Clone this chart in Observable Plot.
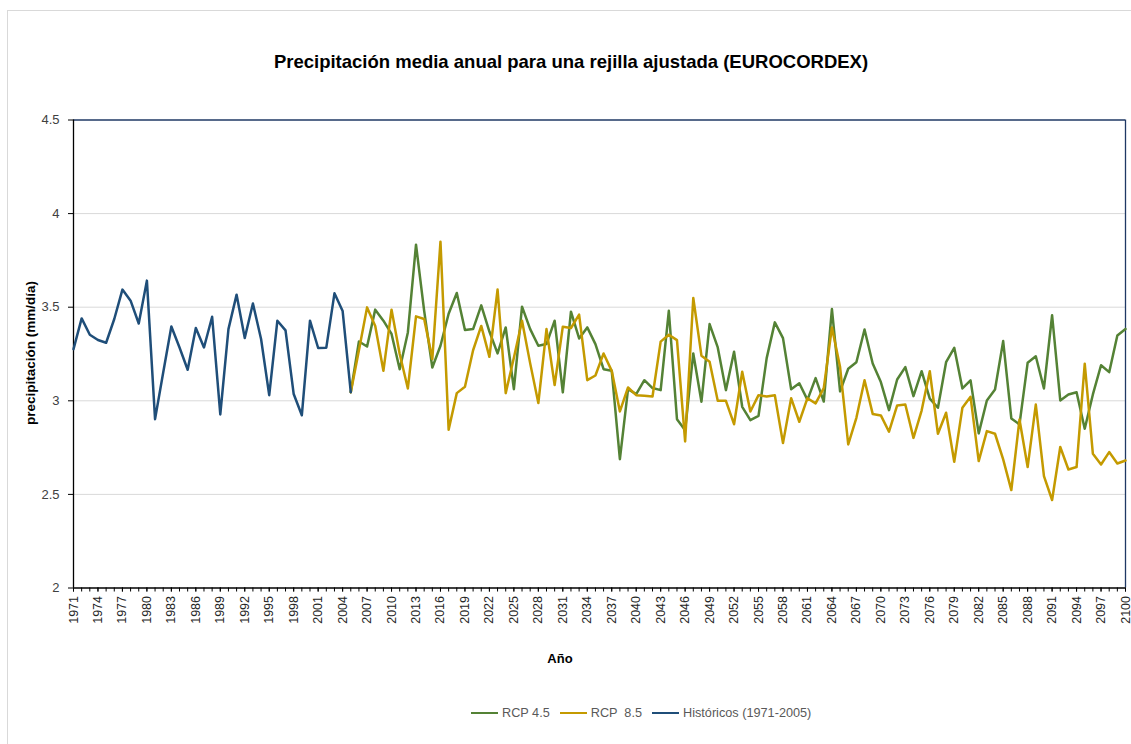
<!DOCTYPE html>
<html><head><meta charset="utf-8">
<script src="https://cdn.jsdelivr.net/npm/d3@7"></script>
<script src="https://cdn.jsdelivr.net/npm/@observablehq/plot@0.6"></script>
<style>
body{margin:0;background:#fff;font-family:"Liberation Sans",Arial,sans-serif;}
#wrap{position:relative;width:1131px;height:744px;overflow:hidden;background:#fff;}
#frame{position:absolute;left:7px;top:10px;width:1140px;height:760px;border:1px solid #d9d9d9;}
#title{position:absolute;left:0;top:51px;width:1142px;text-align:center;font-weight:bold;font-size:18.5px;color:#000;}
#chart{position:absolute;left:0;top:90px;}
#ylab{position:absolute;left:30px;top:353px;transform:translate(-50%,-50%) rotate(-90deg);font-weight:bold;font-size:13.5px;color:#000;white-space:nowrap;}
#xlab{position:absolute;left:560px;top:658px;transform:translate(-50%,-50%);font-weight:bold;font-size:13px;color:#000;}
#legend{position:absolute;left:471px;top:706px;display:flex;align-items:center;font-size:12.7px;color:#595959;white-space:pre;}
.item{display:flex;align-items:center;margin-right:10px;}
.sw{display:inline-block;width:27px;height:0;border-top:2.5px solid;margin-right:4px;}
</style></head>
<body>
<div id="wrap">
<div id="frame"></div>
<div id="title">Precipitación media anual para una rejilla ajustada (EUROCORDEX)</div>
<div id="chart"></div>
<div id="ylab">precipitación (mm/día)</div>
<div id="xlab">Año</div>
<div id="legend"></div>
</div>
<script>
// ---- data ----
const seriesNames = ["RCP 4.5", "RCP  8.5", "Históricos (1971-2005)"];
const seriesColors = ["#548235", "#c49a00", "#1f4e79"];

const histYears = d3.range(1971, 2006);
const histValues = [3.276, 3.44, 3.353, 3.325, 3.31, 3.437, 3.594, 3.535, 3.413, 3.642,
  2.902, 3.151, 3.397, 3.285, 3.166, 3.389, 3.285, 3.449, 2.927, 3.383,
  3.567, 3.335, 3.52, 3.33, 3.03, 3.428, 3.376, 3.036, 2.923, 3.428,
  3.282, 3.284, 3.574, 3.48, 3.046];

const rcpYears = d3.range(2005, 2101);
const rcp45Values = [3.046, 3.317, 3.29, 3.487, 3.428, 3.357, 3.169, 3.365, 3.834, 3.48,
  3.178, 3.294, 3.465, 3.576, 3.378, 3.383, 3.51, 3.37, 3.253, 3.392,
  3.062, 3.503, 3.383, 3.294, 3.303, 3.428, 3.045, 3.476, 3.333, 3.392,
  3.303, 3.169, 3.16, 2.688, 3.062, 3.036, 3.11, 3.068, 3.057, 3.481,
  2.902, 2.843, 3.253, 2.995, 3.41, 3.285, 3.057, 3.262, 2.968, 2.897,
  2.92, 3.228, 3.419, 3.335, 3.062, 3.094, 3.005, 3.121, 2.996, 3.49,
  3.05, 3.171, 3.206, 3.381, 3.199, 3.1, 2.95, 3.114, 3.18, 3.025,
  3.158, 3.012, 2.963, 3.206, 3.283, 3.066, 3.109, 2.826, 3.002, 3.06,
  3.319, 2.906, 2.874, 3.203, 3.238, 3.066, 3.457, 3.002, 3.034, 3.046,
  2.851, 3.034, 3.19, 3.153, 3.349, 3.384];
const rcp85Values = [3.046, 3.27, 3.499, 3.40, 3.16, 3.487, 3.25, 3.066, 3.451, 3.437,
  3.223, 3.85, 2.845, 3.041, 3.075, 3.27, 3.40, 3.235, 3.594, 3.041,
  3.23, 3.428, 3.2, 2.988, 3.383, 3.084, 3.396, 3.389, 3.46, 3.11,
  3.135, 3.253, 3.16, 2.943, 3.071, 3.03, 3.027, 3.023, 3.316, 3.353,
  3.324, 2.783, 3.549, 3.241, 3.209, 3.0, 3.0, 2.875, 3.155, 2.943,
  3.03, 3.023, 3.03, 2.774, 3.014, 2.888, 3.014, 2.986, 3.068, 3.392,
  3.18, 2.767, 2.909, 3.11, 2.93, 2.922, 2.835, 2.975, 2.98, 2.802,
  2.948, 3.158, 2.824, 2.936, 2.674, 2.963, 3.021, 2.678, 2.838, 2.824,
  2.687, 2.523, 2.9, 2.646, 2.98, 2.598, 2.47, 2.753, 2.633, 2.646,
  3.198, 2.717, 2.66, 2.726, 2.665, 2.681];

const yTicks = [2, 2.5, 3, 3.5, 4, 4.5];
const gridValues = [2.5, 3, 3.5, 4];
const xMinorTicks = d3.range(1971, 2101);
const xTickLabels = d3.range(1971, 2101, 3);

// ---- tables ----
const rows45 = rcpYears.map((year, i) => ({year, value: rcp45Values[i]}));
const rows85 = rcpYears.map((year, i) => ({year, value: rcp85Values[i]}));
const rowsHist = histYears.map((year, i) => ({year, value: histValues[i]}));

const chart = Plot.plot({
  width: 1131, height: 560,
  marginTop: 29.5, marginBottom: 62.5, marginLeft: 73, marginRight: 6,
  x: {domain: [1971, 2100]},
  y: {domain: [2, 4.5]},
  style: {fontFamily: "Liberation Sans, Arial, sans-serif", fontSize: "13px", background: "transparent", overflow: "visible"},
  marks: [
    Plot.ruleY(gridValues, {stroke: "#d9d9d9", strokeWidth: 1}),
    Plot.ruleY([4.5], {stroke: "#1f3864", strokeWidth: 1.3}),
    Plot.ruleX([2100], {stroke: "#1f3864", strokeWidth: 1.3}),
    Plot.axisY({ticks: yTicks, tickFormat: d => String(d), tickSize: 5, tickPadding: 9, label: null, stroke: "#000", fill: "#404040", fontSize: 13}),
    Plot.axisX({ticks: xMinorTicks, tickSize: 4, tickFormat: () => "", label: null, stroke: "#000"}),
    Plot.axisX({ticks: xTickLabels, tickSize: 4, tickPadding: 4, tickRotate: -90, tickFormat: d => String(d), label: null, stroke: "#000", fill: "#262626", fontSize: 12.5}),
    Plot.ruleX([1971], {stroke: "#000", strokeWidth: 1.3}),
    Plot.ruleY([2], {stroke: "#000", strokeWidth: 1.3}),
    Plot.line(rows45, {x: "year", y: "value", stroke: seriesColors[0], strokeWidth: 2.5}),
    Plot.line(rows85, {x: "year", y: "value", stroke: seriesColors[1], strokeWidth: 2.5}),
    Plot.line(rowsHist, {x: "year", y: "value", stroke: seriesColors[2], strokeWidth: 2.5})
  ]
});
document.getElementById("chart").appendChild(chart);

const legend = document.getElementById("legend");
seriesNames.forEach((name, i) => {
  const it = document.createElement("div");
  it.className = "item";
  const sw = document.createElement("span");
  sw.className = "sw";
  sw.style.borderTopColor = seriesColors[i];
  it.appendChild(sw);
  const t = document.createElement("span");
  t.textContent = name;
  it.appendChild(t);
  legend.appendChild(it);
});
</script>
</body></html>
